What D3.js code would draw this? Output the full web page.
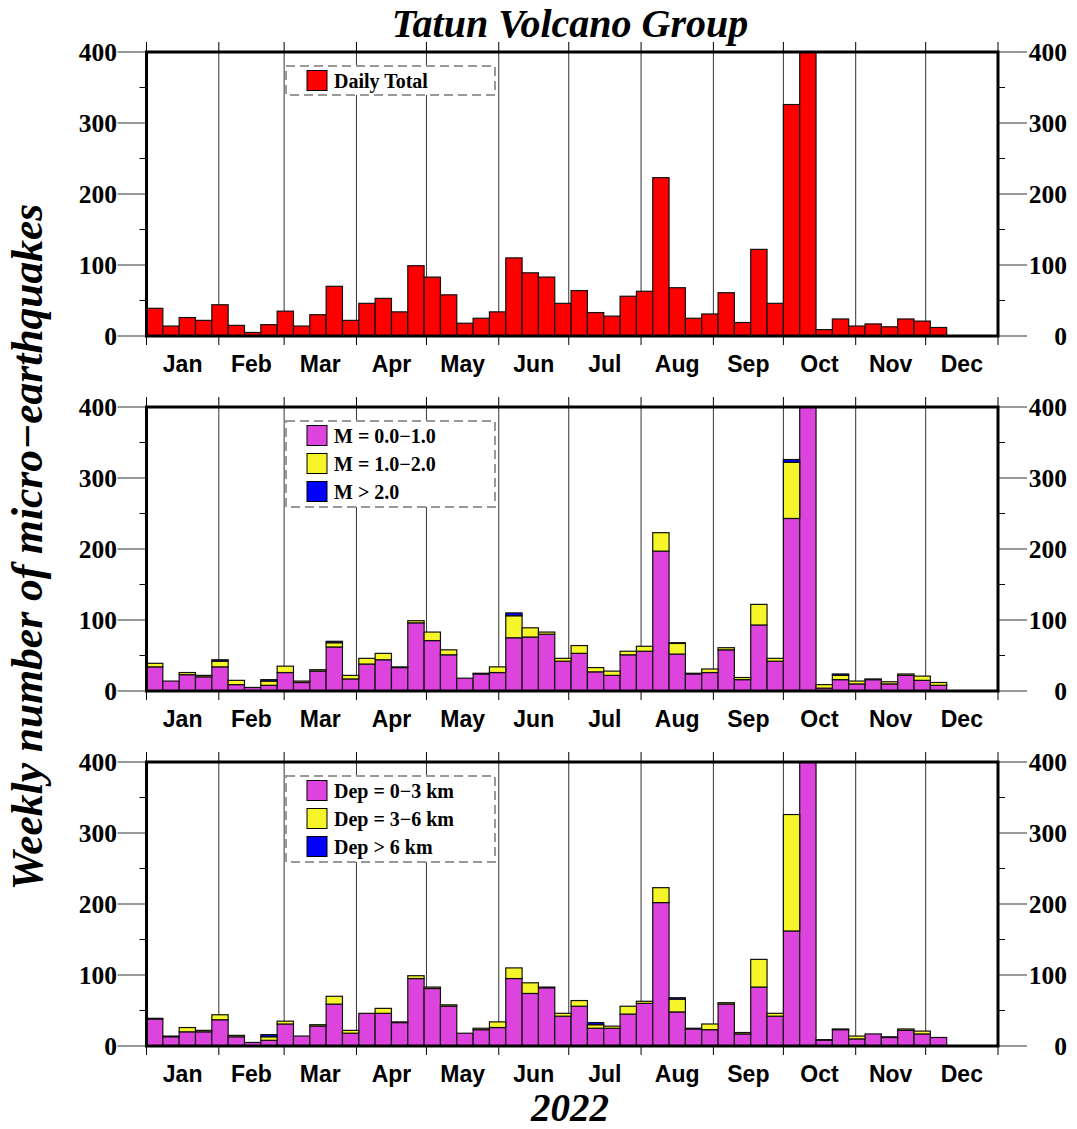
<!DOCTYPE html>
<html>
<head>
<meta charset="utf-8">
<script src="https://cdn.jsdelivr.net/npm/d3@7"></script>
<style>
  html, body { margin: 0; padding: 0; background: #fff; }
  svg { display: block; }
</style>
</head>
<body>
<svg id="chart" width="1077" height="1129"></svg>
<script>
// Weekly counts of micro-earthquakes, Tatun Volcano Group, 2022 (weeks starting Jan 1)
const monthLabels = ["Jan", "Feb", "Mar", "Apr", "May", "Jun", "Jul", "Aug", "Sep", "Oct", "Nov", "Dec"];
const yTicks = [0, 100, 200, 300, 400];
const yMinorTicks = [50, 150, 250, 350];

const dailyTotal = [39, 14, 26, 22, 44, 15, 5, 16, 35, 14, 30, 70, 22, 46, 53, 34, 99, 83, 58, 18,
  25, 34, 110, 89, 83, 46, 64, 33, 28, 56, 63, 223, 68, 25, 31, 61, 19, 122, 46, 326,
  495, 9, 24, 14, 17, 13, 24, 21, 12];

// by magnitude
const magLow = [34, 14, 23, 20, 34, 9, 5, 8, 26, 12, 28, 62, 17, 38, 44, 33, 96, 71, 51, 18,
  24, 26, 75, 76, 80, 42, 53, 27, 22, 51, 56, 197, 52, 24, 26, 58, 16, 93, 42, 243,
  445, 4, 16, 10, 16, 10, 22, 15, 8];
const magMid = [5, 0, 3, 2, 8, 6, 0, 6, 9, 2, 2, 6, 5, 8, 9, 1, 3, 12, 7, 0,
  1, 8, 31, 13, 3, 4, 11, 6, 6, 5, 7, 26, 15, 1, 5, 3, 3, 29, 4, 79,
  48, 5, 6, 4, 1, 3, 2, 6, 4];
const magHigh = [0, 0, 0, 0, 2, 0, 0, 2, 0, 0, 0, 2, 0, 0, 0, 0, 0, 0, 0, 0,
  0, 0, 4, 0, 0, 0, 0, 0, 0, 0, 0, 0, 1, 0, 0, 0, 0, 0, 0, 4,
  2, 0, 2, 0, 0, 0, 0, 0, 0];

// by depth
const depShallow = [38, 13, 20, 20, 37, 13, 5, 8, 31, 14, 28, 59, 18, 46, 46, 33, 95, 81, 56, 18,
  23, 26, 95, 74, 82, 42, 56, 25, 25, 45, 60, 202, 48, 24, 23, 59, 17, 83, 42, 162,
  455, 8, 23, 10, 17, 12, 22, 17, 12];
const depMid = [1, 1, 6, 2, 7, 2, 0, 5, 4, 0, 2, 11, 4, 0, 7, 1, 4, 2, 2, 0,
  2, 8, 15, 15, 1, 4, 8, 5, 3, 11, 3, 21, 18, 1, 8, 2, 2, 39, 4, 164,
  40, 1, 1, 4, 0, 1, 2, 4, 0];
const depDeep = [0, 0, 0, 0, 0, 0, 0, 3, 0, 0, 0, 0, 0, 0, 0, 0, 0, 0, 0, 0,
  0, 0, 0, 0, 0, 0, 0, 3, 0, 0, 0, 0, 2, 0, 0, 0, 0, 0, 0, 0,
  0, 0, 0, 0, 0, 0, 0, 0, 0];

const RED = "#ff0000", MAGENTA = "#dd44dd", YELLOW = "#f5f52a", BLUE = "#0000ff";

const panels = [
  { series: [dailyTotal], colors: [RED], labels: ["Daily Total"] },
  { series: [magLow, magMid, magHigh], colors: [MAGENTA, YELLOW, BLUE], labels: ["M = 0.0\u22121.0", "M = 1.0\u22122.0", "M > 2.0"] },
  { series: [depShallow, depMid, depDeep], colors: [MAGENTA, YELLOW, BLUE], labels: ["Dep = 0\u22123 km", "Dep = 3\u22126 km", "Dep > 6 km"] }
];

const SERIF = "'Liberation Serif', 'Times New Roman', serif";
const SANS = "'Liberation Sans', Arial, sans-serif";

const svg = d3.select("#chart");
const left = 146.5, right = 998;
const panelTops = [52, 407, 762];
const panelH = 284;

const yearStart = new Date(Date.UTC(2022, 0, 1));
const yearEnd = new Date(Date.UTC(2023, 0, 1));
const x = d3.scaleUtc().domain([yearStart, yearEnd]).range([left, right]);
const monthStarts = d3.utcMonth.range(yearStart, d3.utcDay.offset(yearEnd, 1));
const weekStart = i => d3.utcDay.offset(yearStart, 7 * i);

svg.append("defs").selectAll("clipPath").data(panelTops).join("clipPath")
  .attr("id", (d, i) => "clip" + i)
  .append("rect").attr("x", left).attr("y", d => d).attr("width", right - left).attr("height", panelH);

panels.forEach((p, pi) => {
  const top = panelTops[pi];
  const y = d3.scaleLinear().domain([0, 400]).range([top + panelH, top]);
  const g = svg.append("g");

  // month separators inside the frame
  g.append("g").selectAll("line")
    .data(monthStarts.slice(1, 12)).join("line")
    .attr("x1", d => x(d)).attr("x2", d => x(d))
    .attr("y1", top).attr("y2", top + panelH)
    .attr("stroke", "#333").attr("stroke-width", 1);

  // stacked weekly bars
  const stackData = p.series[0].map((_, i) => {
    const o = { i };
    p.series.forEach((s, k) => o["s" + k] = s[i]);
    return o;
  });
  const keys = p.series.map((_, k) => "s" + k);
  const stacked = d3.stack().keys(keys)(stackData);
  const bars = g.append("g").attr("clip-path", `url(#clip${pi})`);
  stacked.forEach((layer, k) => {
    bars.append("g").selectAll("rect")
      .data(layer.filter(d => d[1] > d[0])).join("rect")
      .attr("x", d => x(weekStart(d.data.i)))
      .attr("width", d => x(weekStart(d.data.i + 1)) - x(weekStart(d.data.i)))
      .attr("y", d => y(d[1]))
      .attr("height", d => y(d[0]) - y(d[1]))
      .attr("fill", p.colors[k])
      .attr("stroke", "#111").attr("stroke-width", 1.2);
  });

  // y axes, both sides: long grey ticks at labelled values, short ones between
  [[left, -1], [right, 1]].forEach(([ax, dir]) => {
    g.append("g").selectAll("line").data(yTicks).join("line")
      .attr("x1", ax).attr("x2", ax + dir * 29)
      .attr("y1", d => y(d)).attr("y2", d => y(d))
      .attr("stroke", "#777").attr("stroke-width", 1.5);
    g.append("g").selectAll("line").data(yMinorTicks).join("line")
      .attr("x1", ax).attr("x2", ax + dir * 7)
      .attr("y1", d => y(d)).attr("y2", d => y(d))
      .attr("stroke", "#000").attr("stroke-width", 1);
    g.append("g").selectAll("text").data(yTicks).join("text")
      .attr("x", dir < 0 ? 117 : 1067)
      .attr("y", d => y(d) + 9)
      .attr("text-anchor", "end")
      .attr("font-family", SERIF).attr("font-weight", "bold").attr("font-size", 25.5)
      .text(d => d);
  });

  // month ticks above and below the frame
  g.append("g").selectAll("line").data(monthStarts).join("line")
    .attr("x1", d => x(d)).attr("x2", d => x(d))
    .attr("y1", top - 10).attr("y2", top)
    .attr("stroke", "#000").attr("stroke-width", 1);
  g.append("g").selectAll("line").data(monthStarts).join("line")
    .attr("x1", d => x(d)).attr("x2", d => x(d))
    .attr("y1", top + panelH).attr("y2", top + panelH + 9)
    .attr("stroke", "#000").attr("stroke-width", 1);

  // month names centred in each month
  g.append("g").selectAll("text").data(monthStarts.slice(0, 12)).join("text")
    .attr("x", d => (x(d) + x(d3.utcMonth.offset(d, 1))) / 2)
    .attr("y", top + panelH + 36)
    .attr("text-anchor", "middle")
    .attr("font-family", SANS).attr("font-weight", "bold").attr("font-size", 23)
    .text((d, i) => monthLabels[i]);

  // frame
  g.append("rect")
    .attr("x", left).attr("y", top).attr("width", right - left).attr("height", panelH)
    .attr("fill", "none").attr("stroke", "#000").attr("stroke-width", 3);

  // legend
  const n = p.labels.length;
  const lg = g.append("g");
  lg.append("rect")
    .attr("x", 286).attr("y", top + 14)
    .attr("width", 209).attr("height", n === 1 ? 29 : 86)
    .attr("fill", "#fff").attr("stroke", "#999").attr("stroke-width", 2)
    .attr("stroke-dasharray", "9,5");
  p.labels.forEach((lab, k) => {
    const sy = top + 18.5 + k * 28;
    lg.append("rect").attr("x", 307).attr("y", sy).attr("width", 20).attr("height", 20)
      .attr("fill", p.colors[k]).attr("stroke", "#000").attr("stroke-width", 1);
    lg.append("text").attr("x", 334).attr("y", sy + 17)
      .attr("font-family", SERIF).attr("font-weight", "bold").attr("font-size", 20)
      .text(lab);
  });
});

// titles
svg.append("text").attr("x", 570).attr("y", 37).attr("text-anchor", "middle")
  .attr("font-family", SERIF).attr("font-weight", "bold").attr("font-style", "italic").attr("font-size", 40)
  .text("Tatun Volcano Group");
svg.append("text").attr("x", 570).attr("y", 1121).attr("text-anchor", "middle")
  .attr("font-family", SERIF).attr("font-weight", "bold").attr("font-style", "italic").attr("font-size", 39)
  .text("2022");
svg.append("text").attr("transform", "translate(42,547) rotate(-90)").attr("text-anchor", "middle")
  .attr("font-family", SERIF).attr("font-weight", "bold").attr("font-style", "italic").attr("font-size", 43.5)
  .text("Weekly number of micro\u2212earthquakes");
</script>
</body>
</html>
